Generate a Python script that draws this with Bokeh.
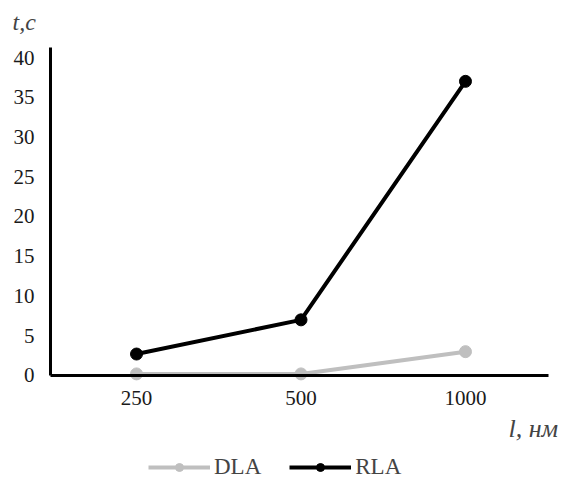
from bokeh.plotting import figure
from bokeh.models import Range1d, Legend, LegendItem, Label, FixedTicker
from bokeh.embed import file_html
from bokeh.resources import INLINE

categories = ["250", "500", "1000"]
dla = [0.2, 0.2, 3.0]
rla = [2.7, 7.0, 37.0]
y_ticks = [0, 5, 10, 15, 20, 25, 30, 35, 40]

FONT = "Liberation Serif"
xpos = list(range(len(categories)))

p = figure(width=564, height=482, output_backend="svg", toolbar_location=None,
           x_range=Range1d(-0.827, 2.602), y_range=Range1d(-13.46, 47.17),
           min_border=0)
p.outline_line_color = None
p.grid.visible = False
p.background_fill_color = "white"

for ax in (p.xaxis[0], p.yaxis[0]):
    ax.axis_line_width = 3
    ax.axis_line_color = "black"
    ax.major_tick_line_color = None
    ax.minor_tick_line_color = None
    ax.major_label_text_font = FONT
    ax.major_label_text_font_size = "21px"
    ax.major_label_text_color = "#1a1a1a"
p.yaxis[0].ticker = FixedTicker(ticks=y_ticks)
p.yaxis[0].bounds = (0, 41.26)
p.yaxis[0].fixed_location = -0.523
p.yaxis[0].major_label_standoff = 10
p.xaxis[0].ticker = FixedTicker(ticks=xpos)
p.xaxis[0].major_label_overrides = {i: c for i, c in zip(xpos, categories)}
p.xaxis[0].bounds = (-0.523, 2.505)
p.xaxis[0].fixed_location = 0
p.xaxis[0].major_label_standoff = 10

dl = p.line(xpos, dla, line_color="#bfbfbf", line_width=4)
ds = p.scatter(xpos, dla, size=12, fill_color="#bfbfbf", line_color="#bfbfbf")
rl = p.line(xpos, rla, line_color="black", line_width=4)
rs = p.scatter(xpos, rla, size=12, fill_color="black", line_color="black")

p.add_layout(Label(x=12, y=448, x_units="screen", y_units="screen", text="t,c",
                   text_font=FONT, text_font_style="italic", text_font_size="24px"))
p.add_layout(Label(x=508, y=40, x_units="screen", y_units="screen", text="l, нм",
                   text_font=FONT, text_font_style="italic", text_font_size="26px"))

legend = Legend(items=[LegendItem(label="DLA", renderers=[dl, ds]),
                       LegendItem(label="RLA", renderers=[rl, rs])],
                orientation="horizontal", location=(148, 2), padding=0, margin=0,
                label_text_font=FONT, label_text_font_size="23px",
                glyph_width=62, spacing=28, label_standoff=4,
                border_line_color=None, background_fill_alpha=0)
p.add_layout(legend, "center")

open("out.html", "w").write(file_html(p, INLINE))
